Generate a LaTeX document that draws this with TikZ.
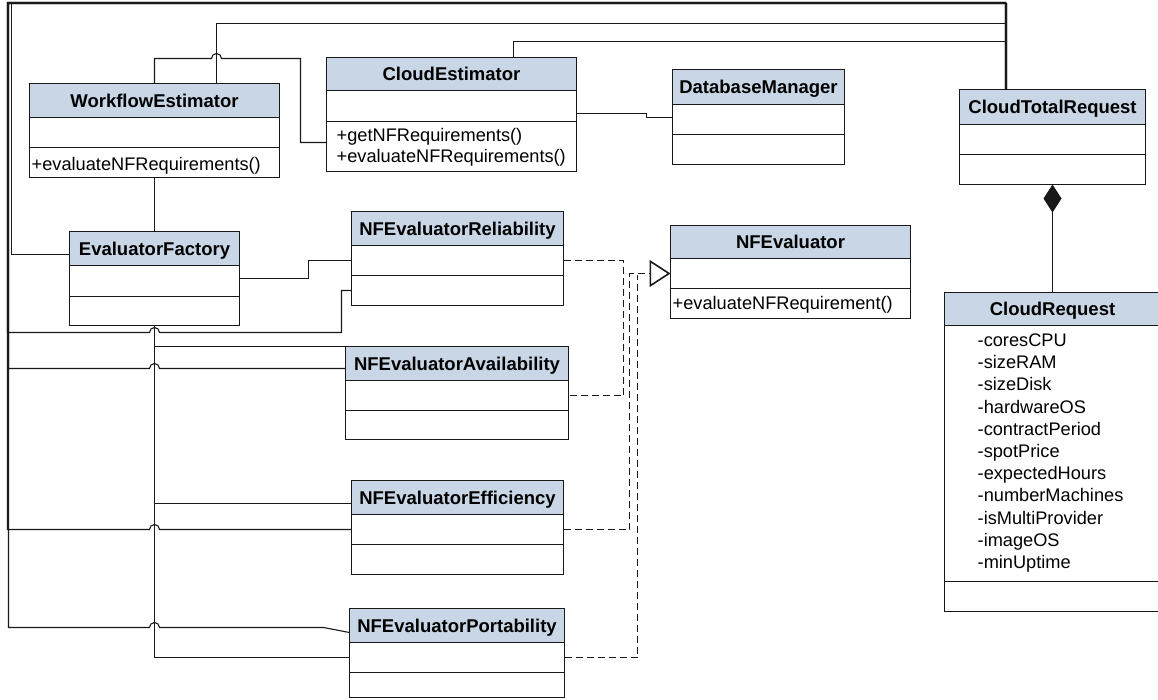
\documentclass[tikz,border=0pt]{standalone}
\usepackage{fontspec}
\setmainfont{Liberation Sans}
\usetikzlibrary{arrows.meta,calc}
\definecolor{hdrblue}{RGB}{201,214,229}
\definecolor{ln}{RGB}{25,25,25}
\newcommand\ttlfnt{\fontsize{18.5pt}{22pt}\selectfont\bfseries}
\newcommand\bodyfnt{\fontsize{18.2pt}{22pt}\selectfont}
\newcommand\umlbox[8]{%
  \node[hdr, minimum width=#4pt, minimum height=#5pt] (#1) at (#2,#3) {#8};
  \node[box, minimum width=#4pt, minimum height=#6pt] (#1-a) at (#1.south west) {};
  \node[box, minimum width=#4pt, minimum height=#7pt] (#1-o) at (#1-a.south west) {};
}
\begin{document}
\begin{tikzpicture}[x=1pt,y=-1pt,
  box/.style={draw=ln, line width=1.2pt, inner sep=0pt, outer sep=0pt, anchor=north west},
  hdr/.style={box, fill=hdrblue, font=\ttlfnt, text height=13.3pt, text depth=0pt},
  optext/.style={font=\bodyfnt, inner sep=0pt, text height=13.1pt, text depth=0pt, anchor=west},
  attrtext/.style={font=\bodyfnt, inner sep=0pt, anchor=base west},
  conn/.style={draw=ln, line width=1.1pt},
  real/.style={draw=ln, line width=1.1pt, dash pattern=on 7pt off 4pt}]
\useasboundingbox (0,0) rectangle (1158,699);
\fill[white] (0,0) rectangle (1158,699);
\clip (0,0) rectangle (1158,699);
\begin{scope}[shift={(0.5,0.5)}]
% classes
\umlbox{we}{29}{83}{250}{34}{30}{30}{WorkflowEstimator}
\umlbox{ce}{326}{57}{250}{33}{31}{50}{CloudEstimator}
\umlbox{db}{672}{69}{172}{35}{30}{30}{DatabaseManager}
\umlbox{ctr}{959}{89}{186}{35}{30}{30}{CloudTotalRequest}
\umlbox{cr}{944}{292}{216}{33}{256}{30}{CloudRequest}
\umlbox{ef}{69}{231}{170}{34}{31}{29}{EvaluatorFactory}
\umlbox{rel}{351}{211}{212}{34}{30}{30}{NFEvaluatorReliability}
\umlbox{av}{345}{346}{223}{34}{30}{29}{NFEvaluatorAvailability}
\umlbox{eff}{351}{480}{212}{34}{30}{30}{NFEvaluatorEfficiency}
\umlbox{por}{349}{608}{215}{34}{30}{25}{NFEvaluatorPortability}
\umlbox{nfe}{670}{225}{240}{33}{30}{30}{NFEvaluator}

% operations
\node[optext] (we-op) at ($(we-o.west)+(2,1)$) {+evaluateNFRequirements()};
\node[optext] (ce-op1) at (336,134) {+getNFRequirements()};
\node[optext] (ce-op2) at (336,155.5) {+evaluateNFRequirements()};
\node[optext] (nfe-op) at ($(nfe-o.west)+(2,-1)$) {+evaluateNFRequirement()};

% attributes
\foreach \t [count=\i from 0] in {-coresCPU,-sizeRAM,-sizeDisk,-hardwareOS,-contractPeriod,-spotPrice,-expectedHours,-numberMachines,-isMultiProvider,-imageOS,-minUptime}
  \node[attrtext] (cr-t\i) at (977,{346+22.2*\i}) {\t};

% associations to CloudTotalRequest along the top
\draw[conn] ($(we.north)+(62,0)$) |- (1005,23) -- ($(ctr.north)+(-47,0)$);
\draw[conn] ($(ce.north)+(62,0)$) |- (1005,41) -- ($(ctr.north)+(-47,0)$);
\draw[conn] (we.north) |- (211,58) arc[start angle=180,end angle=360,radius=5] -- (300,58) |- ($(ce-o.west)+(0,-4)$);
\draw[conn] ($(ce-a.east)+(0,7.5)$) -| (646,117) -- ($(db-a.west)+(0,-2)$);
\draw[conn] (we-o.south) -- (ef.north);
\draw[conn] ($(ef.west)+(0,6)$) -| (11,3) -| ($(ctr.north)+(-46,0)$);
\draw[conn] ($(ef-a.east)+(0,-2.5)$) -| (308,260) -- (rel-a.west);

% trunk connectors
\draw[conn] (rel-o.west) -| (341,332) -- (159,332) arc[start angle=0,end angle=-180,radius=5] -- (7,332) |- (1005,2) -- ($(ctr.north)+(-47,0)$);
\draw[conn] ($(av.west)+(0,5)$) -- (159,368) arc[start angle=0,end angle=-180,radius=5] -- (8,368) |- (1006,3) -- ($(ctr.north)+(-46,0)$);
\draw[conn] (eff-a.west) -- (159,529) arc[start angle=0,end angle=-180,radius=5] -- (7,529) |- (1005,2) -- ($(ctr.north)+(-47,0)$);
\draw[conn] ($(por.west)+(0,7)$) -- (323,627) -- (159,627) arc[start angle=0,end angle=-180,radius=5] -- (8,627) |- (1006,3) -- ($(ctr.north)+(-46,0)$);

% factory to evaluators
\draw[conn] (ef-o.south) |- (av.north west);
\draw[conn] (ef-o.south) |- ($(eff.west)+(0,6)$);
\draw[conn] (ef-o.south) |- (por-a.west);

% composition
\draw[conn, {Diamond[length=28pt,width=18pt]}-] (ctr-o.south) -- (cr.north);

% realizations
\draw[real] (rel-a.east) -| ($(av-a.east)+(55,0)$) -- (av-a.east);
\draw[real, -{Triangle[open,length=21pt,width=27pt,line width=1.6pt]}] (eff-a.east) -| ($(nfe-a.west)+(-41,0)$) -- (nfe-a.west);
\draw[real] (por-a.east) -| ($(nfe-a.west)+(-33,1)$);
\end{scope}
\end{tikzpicture}
\end{document}
